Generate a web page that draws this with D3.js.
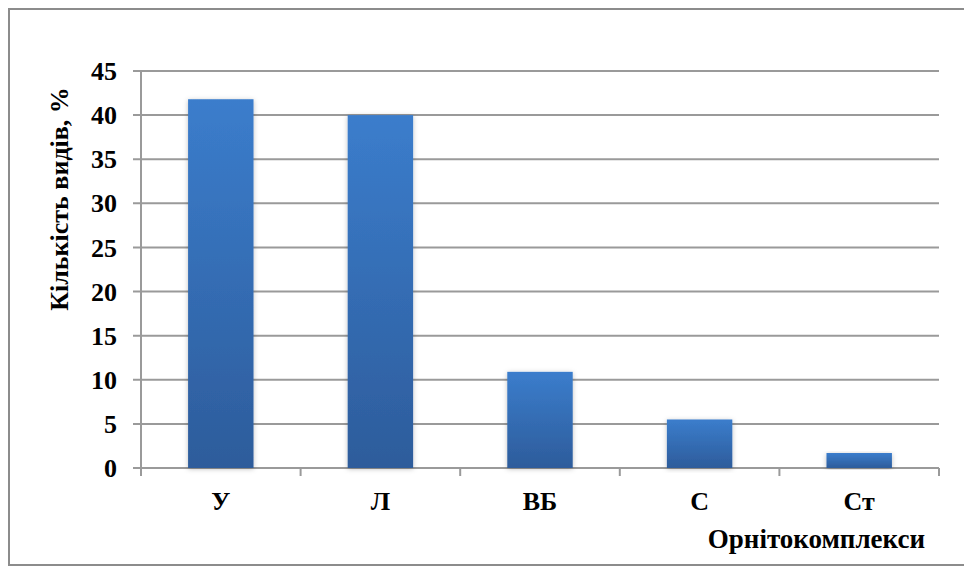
<!DOCTYPE html>
<html>
<head>
<meta charset="utf-8">
<script src="https://cdn.jsdelivr.net/npm/d3@7/dist/d3.min.js"></script>
<style>
  html, body { margin: 0; padding: 0; background: #fff; }
  svg { display: block; }
</style>
</head>
<body>
<svg id="chart" width="964" height="576"></svg>
<script>
// Share of bird species by ornithocomplex
const categories = ["У", "Л", "ВБ", "С", "Ст"];
const values = [41.8, 40.0, 10.9, 5.5, 1.7];
const yTicks = [0, 5, 10, 15, 20, 25, 30, 35, 40, 45];
const yTitle = "Кількість видів, %";
const xTitle = "Орнітокомплекси";

const FONT = '"Liberation Serif", "Times New Roman", Tinos, serif';

const svg = d3.select("#chart");
const W = 964, H = 576;
const margin = { left: 141, right: 25, top: 71, bottom: 108 };

function label(sel, size) {
  return sel.style("font-family", FONT)
    .style("font-weight", "bold")
    .style("font-size", size + "px")
    .attr("fill", "#000");
}

// outer frame (right edge runs past the page)
svg.append("rect")
  .attr("x", 9).attr("y", 9)
  .attr("width", W + 20).attr("height", 565 - 9)
  .attr("fill", "#fff")
  .attr("stroke", "#8c8c8c").attr("stroke-width", 2);

const defs = svg.append("defs");
const grad = defs.append("linearGradient")
  .attr("id", "barGrad").attr("x1", 0).attr("y1", 0).attr("x2", 0).attr("y2", 1);
grad.append("stop").attr("offset", "0%").attr("stop-color", "#3b7dcc");
grad.append("stop").attr("offset", "100%").attr("stop-color", "#2d5c9b");

const shadow = defs.append("filter").attr("id", "barShadow")
  .attr("x", "-20%").attr("y", "-10%").attr("width", "140%").attr("height", "120%");
shadow.append("feDropShadow")
  .attr("dx", 0).attr("dy", 1).attr("stdDeviation", 2.5)
  .attr("flood-color", "#000").attr("flood-opacity", 0.25);

const x = d3.scaleBand()
  .domain(categories)
  .range([margin.left, W - margin.right])
  .paddingInner(0.59)
  .paddingOuter(0.295);

const y = d3.scaleLinear()
  .domain([0, 45])
  .range([H - margin.bottom, margin.top]);

// horizontal gridlines
svg.append("g")
  .selectAll("line")
  .data(yTicks)
  .join("line")
  .attr("x1", margin.left - 8)
  .attr("x2", W - margin.right)
  .attr("y1", d => y(d)).attr("y2", d => y(d))
  .attr("stroke", "#9a9a9a").attr("stroke-width", 2);

// y axis line
svg.append("line")
  .attr("x1", margin.left).attr("x2", margin.left)
  .attr("y1", y(45)).attr("y2", y(0))
  .attr("stroke", "#9a9a9a").attr("stroke-width", 2);

// category boundary ticks on x axis
const step = x.step();
const boundaries = d3.range(categories.length + 1).map(i => margin.left + i * step);
svg.append("g")
  .selectAll("line")
  .data(boundaries)
  .join("line")
  .attr("x1", d => d).attr("x2", d => d)
  .attr("y1", y(0)).attr("y2", y(0) + 8)
  .attr("stroke", "#9a9a9a").attr("stroke-width", 2);

// bars
svg.append("g")
  .selectAll("rect")
  .data(categories.map((c, i) => ({ c, v: values[i] })))
  .join("rect")
  .attr("x", d => x(d.c))
  .attr("width", x.bandwidth())
  .attr("y", d => y(d.v))
  .attr("height", d => y(0) - y(d.v))
  .attr("fill", "url(#barGrad)")
  .attr("filter", "url(#barShadow)");

// y tick labels
label(svg.append("g")
  .selectAll("text")
  .data(yTicks)
  .join("text")
  .attr("x", 117)
  .attr("y", d => y(d))
  .attr("dy", "0.35em")
  .attr("text-anchor", "end"), 26)
  .text(d => d);

// x category labels
label(svg.append("g")
  .selectAll("text")
  .data(categories)
  .join("text")
  .attr("x", d => x(d) + x.bandwidth() / 2)
  .attr("y", 510)
  .attr("text-anchor", "middle"), 26)
  .text(d => d);

// axis titles
label(svg.append("text")
  .attr("transform", `translate(68, 199) rotate(-90)`)
  .attr("text-anchor", "middle"), 26)
  .text(yTitle);

label(svg.append("text")
  .attr("x", 925)
  .attr("y", 548)
  .attr("text-anchor", "end"), 27)
  .text(xTitle);
</script>
</body>
</html>
